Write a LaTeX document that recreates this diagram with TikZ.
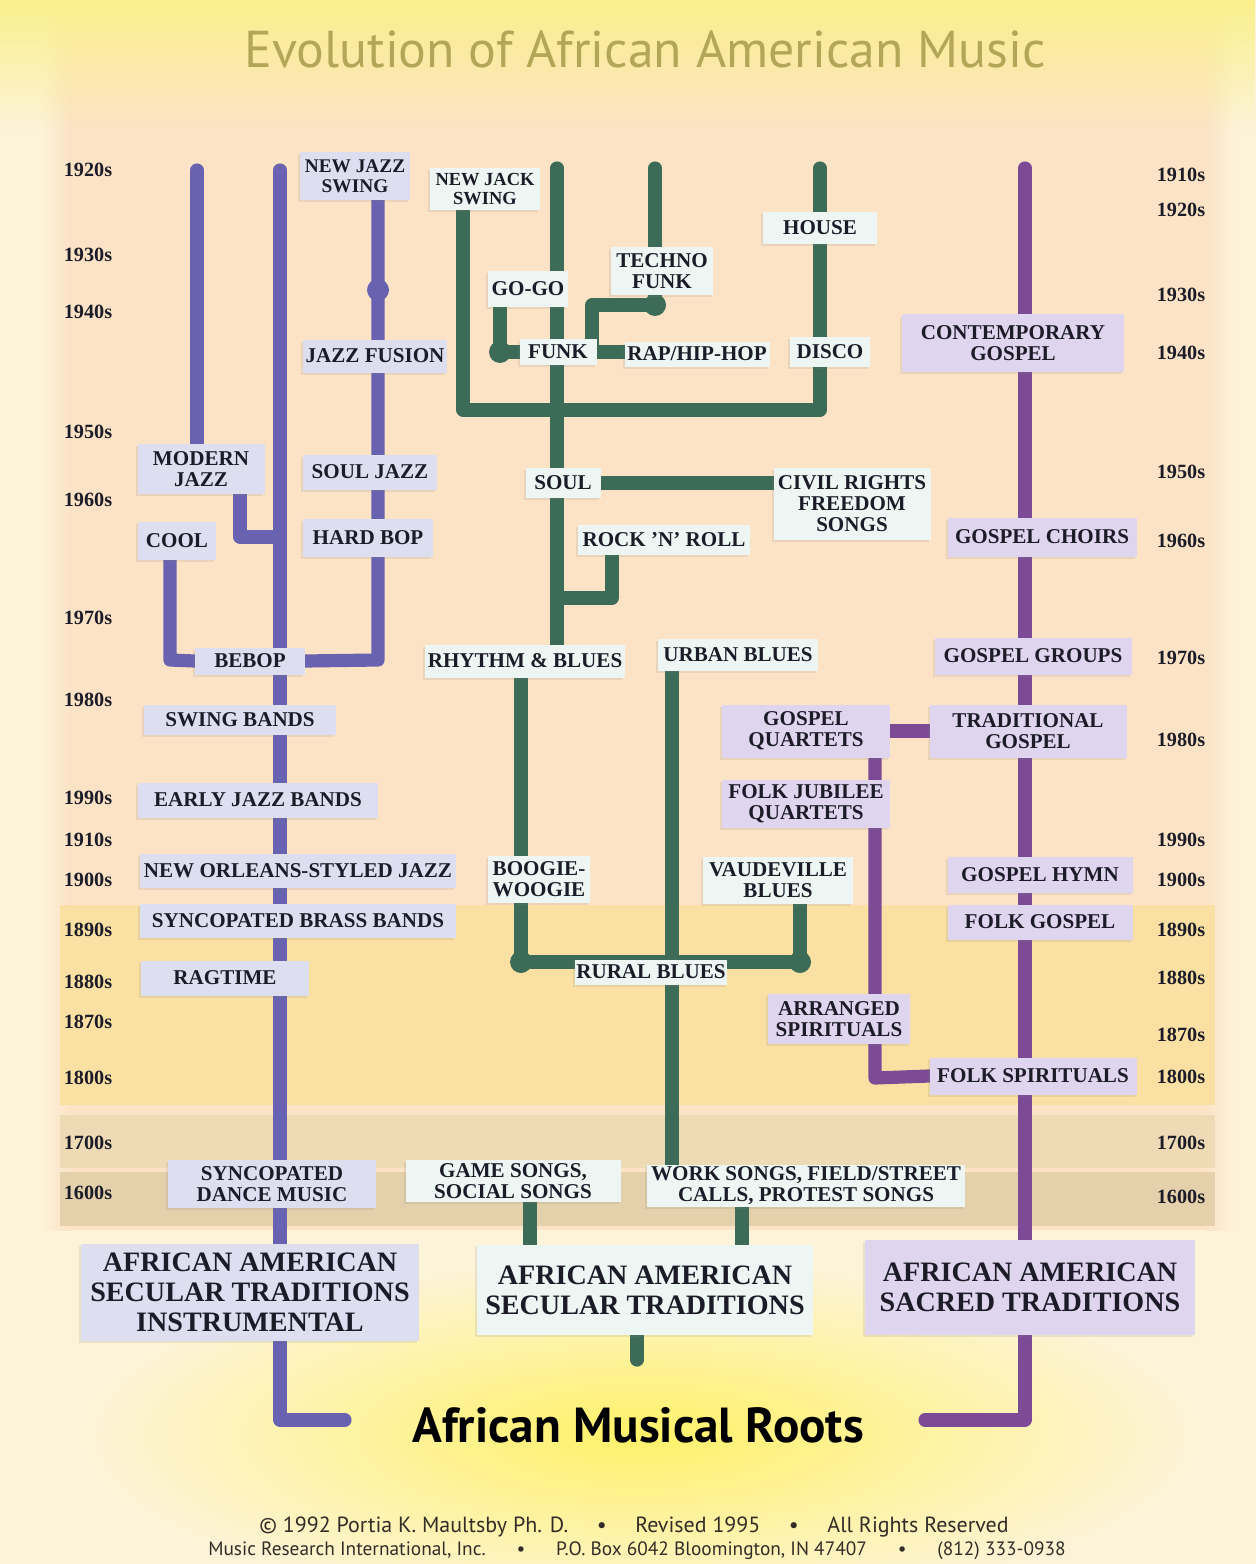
\documentclass[tikz,border=0pt]{standalone}
\usepackage{fontspec}
\setmainfont{Liberation Serif}
\newfontfamily\sansfont{PT Sans}
\usetikzlibrary{shadows,fadings}

\definecolor{jazzcol}{RGB}{104,98,176}
\definecolor{seccol}{RGB}{60,108,88}
\definecolor{saccol}{RGB}{125,75,150}
\definecolor{jazzfill}{RGB}{221,222,240}
\definecolor{secfill}{RGB}{238,246,243}
\definecolor{sacfill}{RGB}{223,213,238}
\definecolor{labeltext}{RGB}{28,28,40}
\definecolor{titlecol}{RGB}{180,166,88}
\definecolor{footcol}{RGB}{50,45,40}
\definecolor{cream}{RGB}{253,243,216}
\definecolor{peach}{RGB}{252,227,198}
\definecolor{topglow}{RGB}{250,240,140}
\definecolor{golden}{RGB}{250,225,163}
\definecolor{bandA}{RGB}{238,219,182}
\definecolor{bandB}{RGB}{228,208,170}
\definecolor{rootglow}{RGB}{255,242,105}

\pgfdeclarelayer{bg}
\pgfdeclarelayer{lines}
\pgfsetlayers{bg,lines,main}

\begin{document}
\begin{tikzpicture}[
        x=0.02cm, y=-0.02cm,
        tagbox/.style={
            inner sep=1pt,
            align=center,
            text=labeltext,
            font=\bfseries\fontsize{12}{12}\selectfont,
            drop shadow={shadow xshift=-1pt, shadow yshift=-1.2pt, opacity=0.15}
        },
        jazzbox/.style={tagbox, fill=jazzfill},
        secbox/.style={tagbox, fill=secfill},
        sacbox/.style={tagbox, fill=sacfill},
        rootbox/.style={font=\bfseries\fontsize{16}{17}\selectfont},
        wh/.style 2 args={minimum width=#1*0.02cm, minimum height=#2*0.02cm},
        yearlbl/.style={text=labeltext, font=\bfseries\fontsize{11.5}{11.5}\selectfont},
        jazzline/.style={draw=jazzcol, line width=7.5pt, line join=round, line cap=round},
        secline/.style={draw=seccol, line width=7.5pt, line join=round, line cap=round},
        sacline/.style={draw=saccol, line width=7.5pt, line join=round, line cap=round}
    ]

    \useasboundingbox (0,0) rectangle (1256,1564);

    \begin{pgfonlayer}{bg}
    \fill[cream] (0,0) rectangle (1256,1564);
    \fill[peach] (70,0) rectangle (1205,1230);
    \shade[left color=cream, right color=peach] (40,0) rectangle (70,1230);
    \shade[left color=peach, right color=cream] (1205,0) rectangle (1235,1230);
    \fill[topglow, path fading=south] (0,0) rectangle (1256,130);
    \fill[golden] (60,905) rectangle (1215,1105);
    \fill[bandA] (60,1115) rectangle (1215,1168);
    \fill[bandB] (60,1172) rectangle (1215,1226);
    \shade[inner color=rootglow, outer color=cream] (640,1435) ellipse (560 and 175);
    \end{pgfonlayer}

    \node[font=\sansfont\fontsize{29.5}{29.5}\selectfont, text=titlecol] (title) at (645,49)
        {Evolution of African American Music};

    \node[yearlbl] (yl1920) at (88,170) {1920s};
    \node[yearlbl] (yl1930) at (88,255) {1930s};
    \node[yearlbl] (yl1940) at (88,312) {1940s};
    \node[yearlbl] (yl1950) at (88,432) {1950s};
    \node[yearlbl] (yl1960) at (88,500) {1960s};
    \node[yearlbl] (yl1970) at (88,618) {1970s};
    \node[yearlbl] (yl1980) at (88,700) {1980s};
    \node[yearlbl] (yl1990) at (88,798) {1990s};
    \node[yearlbl] (yl1910) at (88,840) {1910s};
    \node[yearlbl] (yl1900) at (88,880) {1900s};
    \node[yearlbl] (yl1890) at (88,930) {1890s};
    \node[yearlbl] (yl1880) at (88,982) {1880s};
    \node[yearlbl] (yl1870) at (88,1022) {1870s};
    \node[yearlbl] (yl1800) at (88,1078) {1800s};
    \node[yearlbl] (yl1700) at (88,1143) {1700s};
    \node[yearlbl] (yl1600) at (88,1193) {1600s};

    \node[yearlbl] (yr1910) at (1181,175) {1910s};
    \node[yearlbl] (yr1920) at (1181,210) {1920s};
    \node[yearlbl] (yr1930) at (1181,295) {1930s};
    \node[yearlbl] (yr1940) at (1181,353) {1940s};
    \node[yearlbl] (yr1950) at (1181,472) {1950s};
    \node[yearlbl] (yr1960) at (1181,541) {1960s};
    \node[yearlbl] (yr1970) at (1181,658) {1970s};
    \node[yearlbl] (yr1980) at (1181,740) {1980s};
    \node[yearlbl] (yr1990) at (1181,840) {1990s};
    \node[yearlbl] (yr1900) at (1181,880) {1900s};
    \node[yearlbl] (yr1890) at (1181,930) {1890s};
    \node[yearlbl] (yr1880) at (1181,978) {1880s};
    \node[yearlbl] (yr1870) at (1181,1035) {1870s};
    \node[yearlbl] (yr1800) at (1181,1077) {1800s};
    \node[yearlbl] (yr1700) at (1181,1143) {1700s};
    \node[yearlbl] (yr1600) at (1181,1197) {1600s};

    \node[jazzbox, wh={110}{48}, font=\bfseries\fontsize{11}{11.5}\selectfont] (newjazz) at (355,176) {NEW JAZZ\\SWING};
    \node[jazzbox, wh={144}{33}] (fusion) at (375,356) {JAZZ FUSION};
    \node[jazzbox, wh={127}{50}] (modern) at (201,469) {MODERN\\JAZZ};
    \node[jazzbox, wh={134}{35}] (souljazz) at (370,472) {SOUL JAZZ};
    \node[jazzbox, wh={78}{38}] (cool) at (177,541) {COOL};
    \node[jazzbox, wh={130}{38}] (hardbop) at (368,538) {HARD BOP};
    \node[jazzbox, wh={110}{27}] (bebop) at (250,661) {BEBOP};
    \node[jazzbox, wh={192}{30}] (swing) at (240,720) {SWING BANDS};
    \node[jazzbox, wh={240}{35}] (earlyjazz) at (258,800) {EARLY JAZZ BANDS};
    \node[jazzbox, wh={316}{34}] (neworleans) at (298,871) {NEW ORLEANS-STYLED JAZZ};
    \node[jazzbox, wh={316}{34}] (brass) at (298,921) {SYNCOPATED BRASS BANDS};
    \node[jazzbox, wh={168}{35}] (ragtime) at (225,978) {RAGTIME};
    \node[jazzbox, wh={208}{48}] (dance) at (272,1184) {SYNCOPATED\\DANCE MUSIC};
    \node[jazzbox, rootbox, wh={338}{97}] (instr) at (250,1292)
        {AFRICAN AMERICAN\\SECULAR TRADITIONS\\INSTRUMENTAL};

    \node[secbox, wh={110}{42}, font=\bfseries\fontsize{10.5}{11}\selectfont] (newjack) at (485,189) {NEW JACK\\SWING};
    \node[secbox, wh={80}{36}] (gogo) at (528,289) {GO-GO};
    \node[secbox, wh={102}{48}] (techno) at (662,271) {TECHNO\\FUNK};
    \node[secbox, wh={114}{32}] (house) at (820,228) {HOUSE};
    \node[secbox, wh={77}{26}] (funk) at (558,352) {FUNK};
    \node[secbox, wh={145}{25}] (rap) at (697,354) {RAP/HIP-HOP};
    \node[secbox, wh={80}{30}] (disco) at (830,352) {DISCO};
    \node[secbox, wh={75}{30}] (soul) at (563,483) {SOUL};
    \node[secbox, wh={157}{72}] (civil) at (852,504) {CIVIL RIGHTS\\FREEDOM\\SONGS};
    \node[secbox, wh={172}{30}] (rocknroll) at (664,540) {ROCK 'N' ROLL};
    \node[secbox, wh={200}{33}] (rnb) at (525,661) {RHYTHM \& BLUES};
    \node[secbox, wh={160}{32}] (urban) at (738,655) {URBAN BLUES};
    \node[secbox, wh={102}{47}, align=left] (boogie) at (539,879) {BOOGIE-\\WOOGIE};
    \node[secbox, wh={150}{47}] (vaudeville) at (778,880) {VAUDEVILLE\\BLUES};
    \node[secbox, wh={150}{25}] (rural) at (651,972) {RURAL BLUES};
    \node[secbox, wh={215}{42}] (game) at (513,1181) {GAME SONGS,\\SOCIAL SONGS};
    \node[secbox, wh={318}{42}] (work) at (806,1186)
        {WORK SONGS, FIELD/STREET\\CALLS, PROTEST SONGS};
    \node[secbox, rootbox, wh={336}{90}] (secular) at (645,1290)
        {AFRICAN AMERICAN\\SECULAR TRADITIONS};

    \node[sacbox, wh={222}{57}] (contemp) at (1013,343) {CONTEMPORARY\\GOSPEL};
    \node[sacbox, wh={189}{39}] (choirs) at (1042,537) {GOSPEL CHOIRS};
    \node[sacbox, wh={197}{37}] (groups) at (1033,656) {GOSPEL GROUPS};
    \node[sacbox, wh={197}{53}] (tradgospel) at (1028,731) {TRADITIONAL\\GOSPEL};
    \node[sacbox, wh={168}{53}] (quartets) at (806,731) {GOSPEL\\QUARTETS};
    \node[sacbox, wh={168}{48}] (jubilee) at (806,804) {FOLK JUBILEE\\QUARTETS};
    \node[sacbox, wh={185}{36}] (hymn) at (1040,875) {GOSPEL HYMN};
    \node[sacbox, wh={185}{35}] (folkgospel) at (1040,922) {FOLK GOSPEL};
    \node[sacbox, wh={142}{50}] (arranged) at (839,1019) {ARRANGED\\SPIRITUALS};
    \node[sacbox, wh={207}{37}] (folkspir) at (1033,1076) {FOLK SPIRITUALS};
    \node[sacbox, rootbox, wh={330}{95}] (sacred) at (1030,1287)
        {AFRICAN AMERICAN\\SACRED TRADITIONS};

    \node[font=\sansfont\bfseries\fontsize{28}{28}\selectfont] (roots) at (638,1425)
        {African Musical Roots};

    \node[font=\sansfont\fontsize{12.5}{13}\selectfont, text=footcol] (credit) at (634,1527)
        {\textcopyright{} 1992 Portia K. Maultsby Ph. D.\hspace{1.3em}\textbullet\hspace{1.3em}Revised 1995\hspace{1.3em}\textbullet\hspace{1.3em}All Rights Reserved};
    \node[font=\sansfont\fontsize{11}{12}\selectfont, text=footcol] (address) at (637,1551)
        {Music Research International, Inc.\hspace{1.6em}\textbullet\hspace{1.6em}P.O. Box 6042 Bloomington, IN 47407\hspace{1.6em}\textbullet\hspace{1.6em}(812) 333-0938};

    \coordinate (jtopA) at (197,170);
    \coordinate (jtopB) at (280,170);
    \coordinate (jroot) at (280,1420);
    \coordinate (jrootend) at (345,1420);
    \coordinate (modbend) at (240,537);
    \coordinate (coolbend) at (170,660);
    \coordinate (njbend) at (378,660);
    \coordinate (jdot) at (378,290);

    \coordinate (gtopF) at (557,168);
    \coordinate (gtopT) at (655,168);
    \coordinate (gtopH) at (820,168);
    \coordinate (gbarL) at (463,410);
    \coordinate (gbarR) at (820,410);
    \coordinate (gogobend) at (500,352);
    \coordinate (techdot) at (655,305);
    \coordinate (techbend) at (592,305);
    \coordinate (rockbend) at (612,598);
    \coordinate (ruralL) at (521,962);
    \coordinate (ruralR) at (800,962);
    \coordinate (urbancol) at (672,0);
    \coordinate (gamecol) at (530,0);
    \coordinate (workcol) at (742,0);
    \coordinate (secend) at (637,1360);

    \coordinate (ptop) at (1025,168);
    \coordinate (proot) at (1025,1420);
    \coordinate (prootend) at (925,1420);
    \coordinate (spirbend) at (875,1078);

    \begin{pgfonlayer}{lines}
    \draw[jazzline] (jtopA) -- (jtopA |- modern.north);
    \draw[jazzline] (jtopB) -- (jroot) -- (jrootend);
    \draw[jazzline] (modbend |- modern.south) -- (modbend) -- (jtopB |- modbend);
    \draw[jazzline] (coolbend |- cool.south) -- (coolbend) -- (bebop.west);
    \draw[jazzline] (njbend |- newjazz.south) -- (njbend) -- (bebop.east);
    \fill[jazzcol] (jdot) circle[radius=0.22cm];

    \draw[secline] (gtopF) -- (gtopF |- rnb.north);
    \draw[secline] (gtopT) -- (gtopT |- techno.north);
    \draw[secline] (gtopH) -- (house.north);
    \draw[secline] (gbarL |- newjack.south) -- (gbarL) -- (gbarR) -- (house.south);
    \draw[secline] (gogobend |- gogo.south) -- (gogobend) -- (funk.west);
    \fill[seccol] (gogobend) circle[radius=0.22cm];
    \draw[secline] (techdot |- techno.south) -- (techdot) -- (techbend) -- (techbend |- funk.east);
    \fill[seccol] (techdot) circle[radius=0.22cm];
    \draw[secline] (funk.east) -- (funk.east -| rap.west);
    \draw[secline] (soul.east) -- (soul.east -| civil.west);
    \draw[secline] (rockbend |- rocknroll.south) -- (rockbend) -- (gtopF |- rockbend);
    \draw[secline] (ruralL |- rnb.south) -- (ruralL |- boogie.north);
    \draw[secline] (ruralL |- boogie.south) -- (ruralL) -- (ruralR) -- (ruralR |- vaudeville.south);
    \fill[seccol] (ruralL) circle[radius=0.22cm];
    \fill[seccol] (ruralR) circle[radius=0.22cm];
    \draw[secline] (urbancol |- urban.south) -- (urbancol |- work.north);
    \draw[secline] (gamecol |- game.south) -- (gamecol |- secular.north);
    \draw[secline] (workcol |- work.south) -- (workcol |- secular.north);
    \draw[secline] (secend |- secular.south) -- (secend);

    \draw[sacline] (ptop) -- (proot) -- (prootend);
    \draw[sacline] (quartets.east) -- (quartets.east -| tradgospel.west);
    \draw[sacline] (spirbend |- quartets.south) -- (spirbend) -- (folkspir.west);
    \end{pgfonlayer}

    \end{tikzpicture}
\end{document}
